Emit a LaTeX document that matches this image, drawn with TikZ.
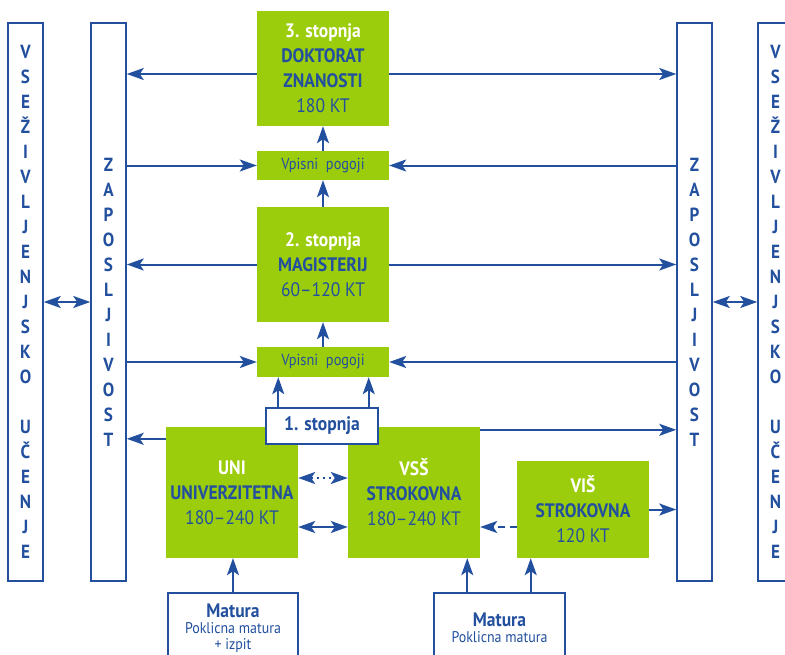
\documentclass[tikz,border=0pt]{standalone}
\usepackage{fontspec}
\setmainfont{PT Sans}[FakeStretch=0.9]
\usepackage{xcolor}
\usetikzlibrary{arrows.meta}
\definecolor{zelena}{RGB}{155,205,12}
\definecolor{modra}{RGB}{35,80,158}

\begin{document}
\begin{tikzpicture}[x=1pt,y=-1pt,
    greenbox/.style={fill=zelena, inner sep=0pt, align=center, text=modra, minimum width=132pt, font=\fontsize{19.5}{25}\selectfont},
    whitebox/.style={draw=modra, line width=1.5pt, fill=white, inner sep=0pt, align=center, text=modra},
    sidebox/.style={draw=modra, line width=1.5pt, minimum width=35pt, minimum height=558pt, inner sep=0pt, align=center, text=modra, font=\bfseries\fontsize{19}{25}\selectfont},
    arr/.style={draw=modra, line width=2pt, -{Stealth[length=17pt,width=12pt,inset=4pt]}},
    dbl/.style={arr, {Stealth[length=17pt,width=12pt,inset=4pt]}-{Stealth[length=17pt,width=12pt,inset=4pt]}}]
    \useasboundingbox (0,0) rectangle (785,654);

    % side columns
    \node[sidebox] (lifeL) at (25.5,302) {V\\S\\E\\Ž\\I\\V\\L\\J\\E\\N\\J\\S\\K\\O\\[25pt]U\\Č\\E\\N\\J\\E};
    \node[sidebox] (zapL) at (108.5,302) {Z\\A\\P\\O\\S\\L\\J\\I\\V\\O\\S\\T};
    \node[sidebox] (zapR) at (694.5,302) {Z\\A\\P\\O\\S\\L\\J\\I\\V\\O\\S\\T};
    \node[sidebox] (lifeR) at (775.5,302) {V\\S\\E\\Ž\\I\\V\\L\\J\\E\\N\\J\\S\\K\\O\\[25pt]U\\Č\\E\\N\\J\\E};
    \draw[dbl] (lifeL.east) -- (zapL.west);
    \draw[dbl] (lifeR.west) -- (zapR.east);

    % study levels
    \node[greenbox, minimum height=115pt] (phd) at (323,68.5) {{\color{white}\bfseries 3. stopnja}\\{\bfseries DOKTORAT}\\{\bfseries ZNANOSTI}\\180 KT};
    \node[greenbox, minimum height=29pt, font=\fontsize{16}{18}\selectfont] (vp1) at (323,165.5) {Vpisni\ \ pogoji};
    \node[greenbox, minimum height=115pt] (ma) at (323,264.5) {{\color{white}\bfseries 2. stopnja}\\{\bfseries MAGISTERIJ}\\60–120 KT};
    \node[greenbox, minimum height=30pt, font=\fontsize{16}{18}\selectfont] (vp2) at (323,362) {Vpisni\ \ pogoji};
    \node[greenbox, minimum height=131pt] (uni) at (232,492.5) {{\color{white}\bfseries UNI}\\{\bfseries UNIVERZITETNA}\\180–240 KT};
    \node[greenbox, minimum height=131pt] (vss) at (414,492.5) {{\color{white}\bfseries VSŠ}\\{\bfseries STROKOVNA}\\180–240 KT};
    \node[greenbox, minimum height=97pt] (vis) at (583,509.5) {{\color{white}\bfseries VIŠ}\\{\bfseries STROKOVNA}\\120 KT};
    \node[whitebox, minimum width=112pt, minimum height=36pt, font=\bfseries\fontsize{19.5}{25}\selectfont] (first) at (322,426) {1. stopnja};

    % entry
    \node[whitebox, anchor=north, minimum width=130pt, minimum height=70pt, font=\fontsize{15.5}{16}\selectfont] (matL) at (233,592) {{\bfseries\fontsize{19.5}{20}\selectfont Matura}\\Poklicna matura\\+ izpit};
    \node[whitebox, anchor=north, minimum width=131pt, minimum height=70pt, font=\fontsize{15.5}{16}\selectfont] (matR) at (499.5,592) {{\bfseries\fontsize{19.5}{20}\selectfont Matura}\\Poklicna matura};

    % rows
    \coordinate (r3) at (0,74);
    \coordinate (u1) at (0,478);
    \coordinate (u2) at (0,527);
    \draw[arr] (phd.west |- r3) -- (zapL.east |- r3);
    \draw[arr] (phd.east |- r3) -- (zapR.west |- r3);
    \draw[arr] (zapL.east |- vp1) -- (vp1.west);
    \draw[arr] (zapR.west |- vp1) -- (vp1.east);
    \draw[arr] (vp1.north) -- (phd.south);
    \draw[arr] (ma.north) -- (vp1.south);
    \draw[arr] (ma.west) -- (zapL.east |- ma.west);
    \draw[arr] (ma.east) -- (zapR.west |- ma.east);
    \draw[arr] (zapL.east |- vp2) -- (vp2.west);
    \draw[arr] (zapR.west |- vp2) -- (vp2.east);
    \draw[arr] (vp2.north) -- (ma.south);
    \coordinate (f1) at ([xshift=13pt]first.north west);
    \coordinate (f2) at ([xshift=-10pt]first.north east);
    \draw[arr] (f1) -- (f1 |- vp2.south);
    \draw[arr] (f2) -- (f2 |- vp2.south);

    % first level
    \coordinate (r1L) at ([yshift=-12pt]uni.north west);
    \coordinate (r1R) at ([yshift=-3pt]vss.north east);
    \draw[arr] (r1L) -- (zapL.east |- r1L);
    \draw[arr] (r1R) -- (zapR.west |- r1R);
    \draw[arr] (vis.east) -- (zapR.west |- vis.east);
    \draw[dbl, dash pattern=on 2pt off 4pt] (uni.east |- u1) -- (vss.west |- u1);
    \draw[dbl] (uni.east |- u2) -- (vss.west |- u2);
    \draw[arr, dash pattern=on 7pt off 5pt] (vis.west |- u2) -- (vss.east |- u2);

    % matura
    \coordinate (m2) at ([xshift=34pt]matR.north west);
    \coordinate (m3) at ([xshift=-35pt]matR.north east);
    \draw[arr] (matL.north) -- (matL.north |- uni.south);
    \draw[arr] (m2) -- (m2 |- vss.south);
    \draw[arr] (m3) -- (m3 |- vis.south);
\end{tikzpicture}
\end{document}
